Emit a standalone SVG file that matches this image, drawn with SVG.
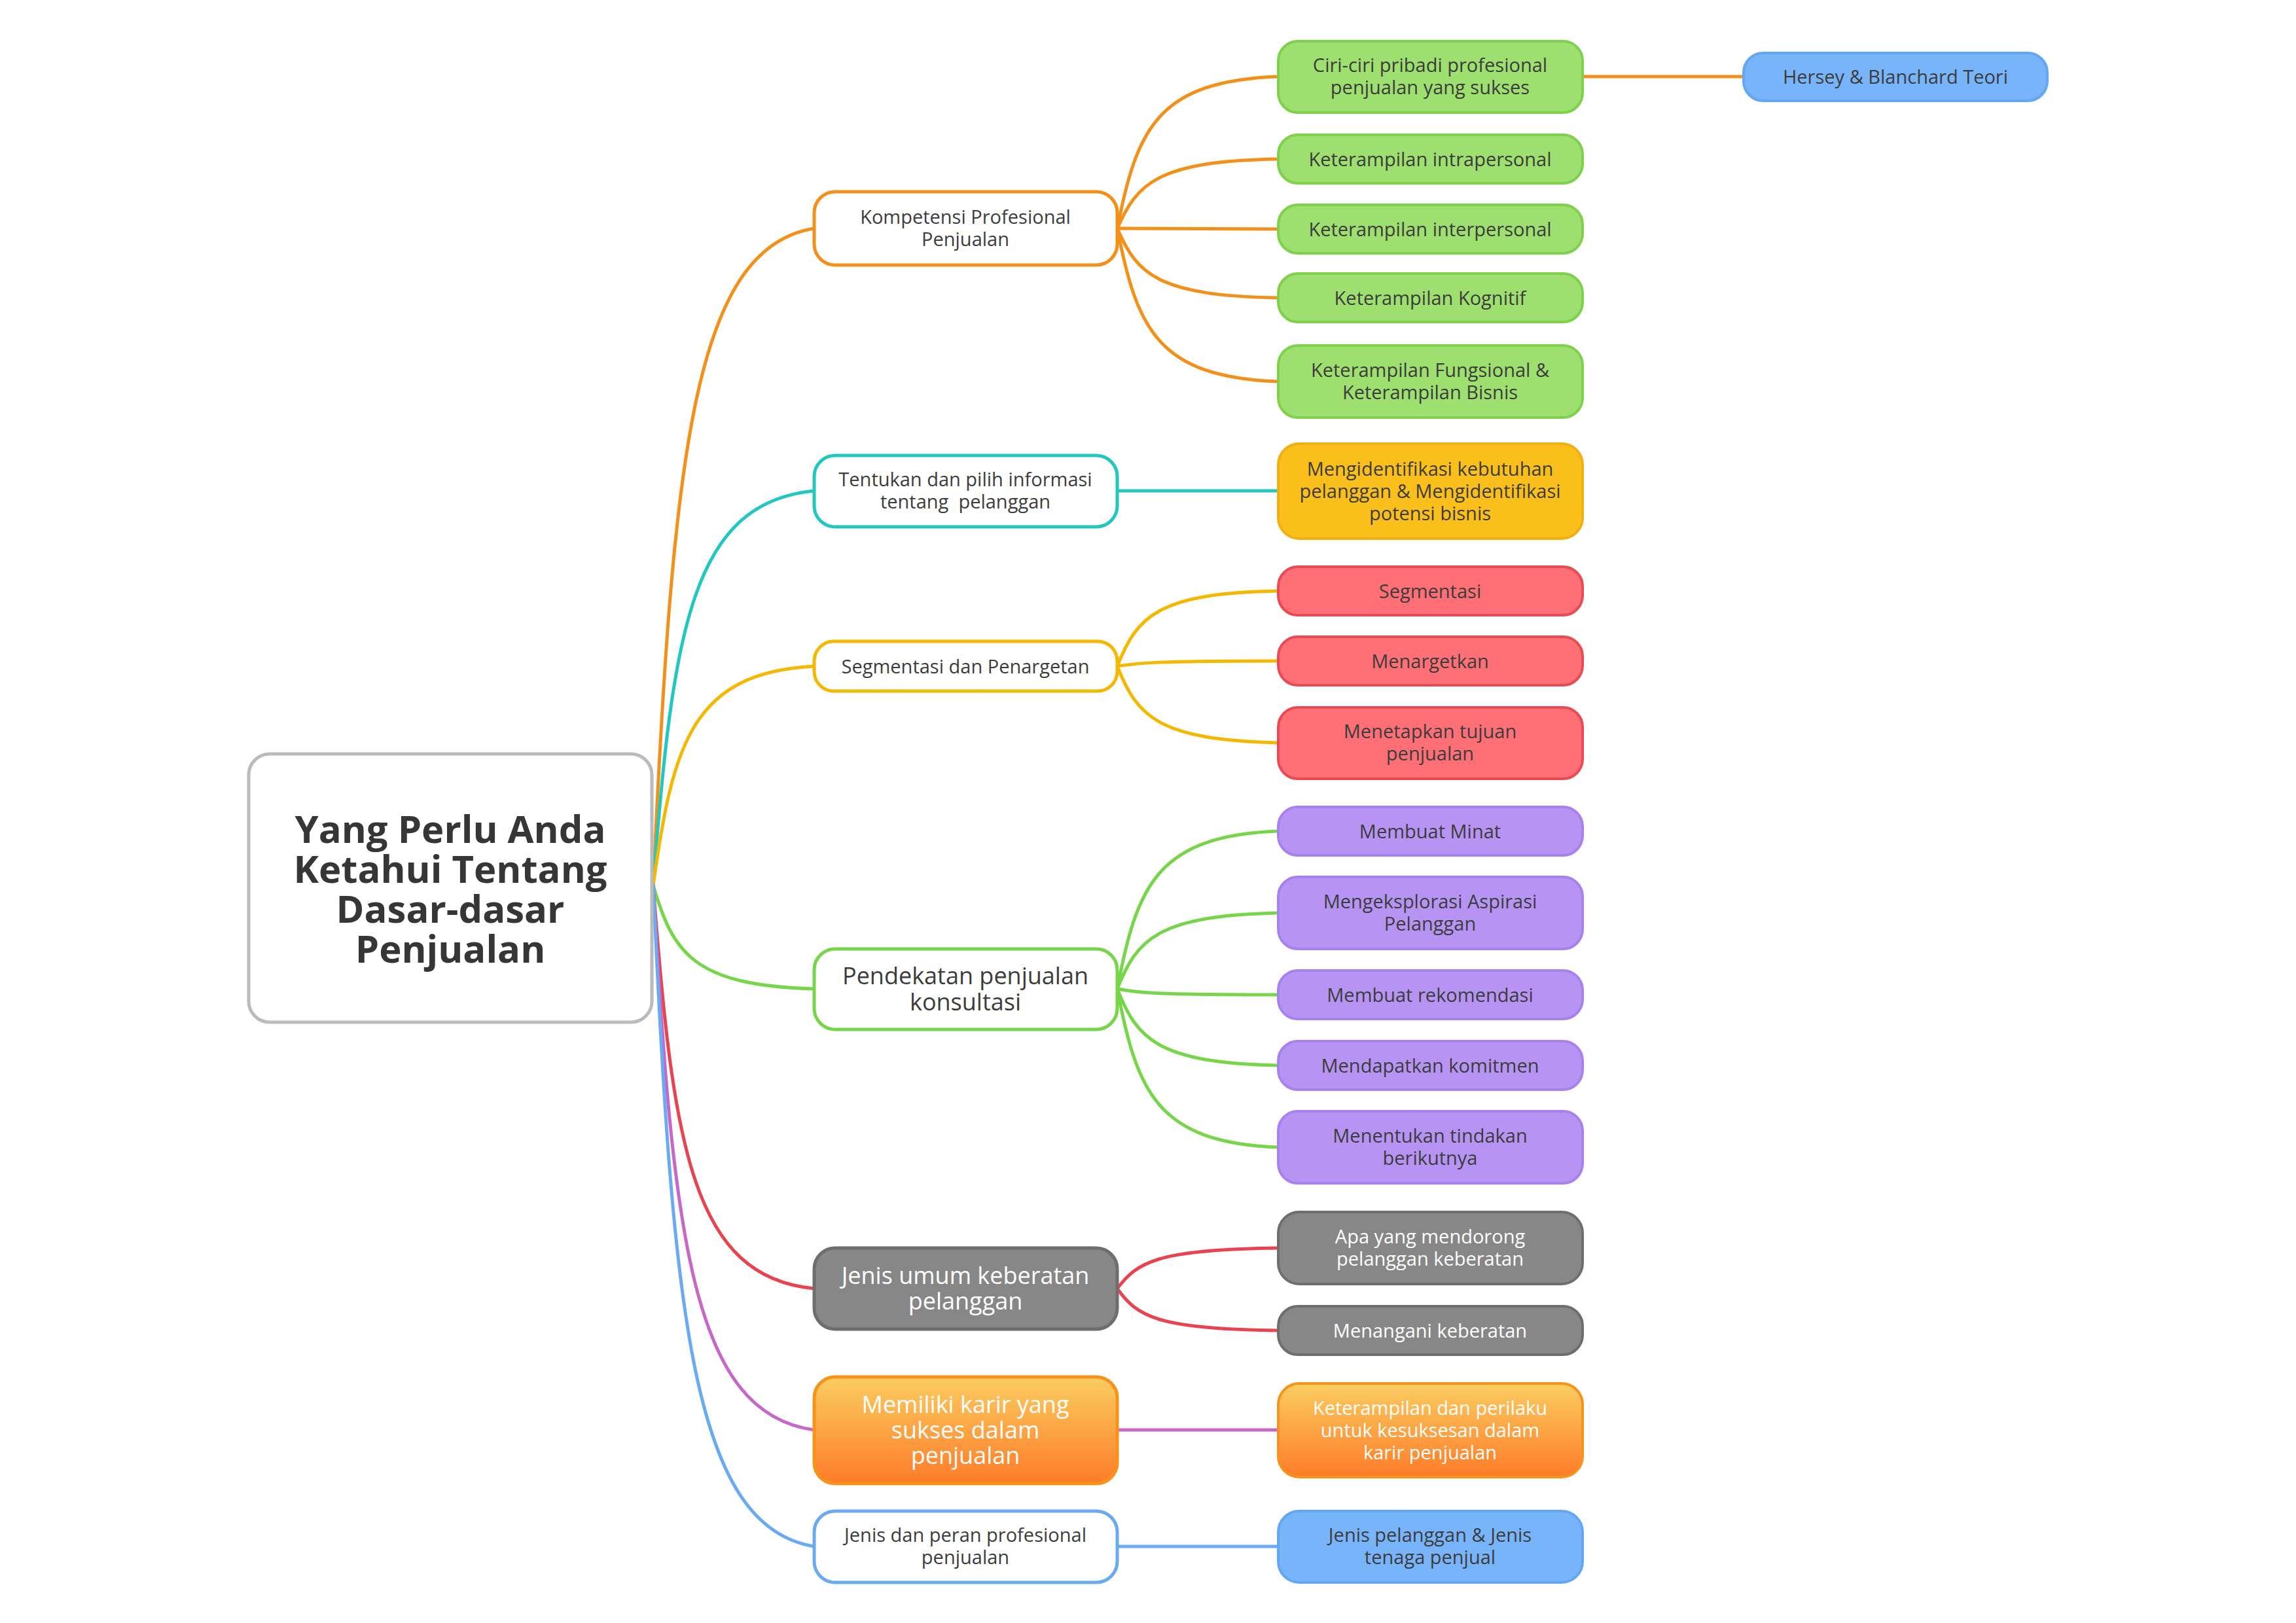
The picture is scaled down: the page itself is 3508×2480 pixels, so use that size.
<svg xmlns="http://www.w3.org/2000/svg" width="3508" height="2480" viewBox="0 0 3508 2480">
<defs>
<linearGradient id="gOrange" x1="0" y1="0" x2="0" y2="1">
<stop offset="0" stop-color="#FBCD60"/>
<stop offset="1" stop-color="#FE7B28"/>
</linearGradient>
<style>
text{font-family:"Open Sans","Noto Sans","Liberation Sans",sans-serif;text-anchor:middle;dominant-baseline:central;fill:#3c3c3c}
.root rect{fill:#fff;stroke:#BBBBBB;stroke-width:5}
.root text{font-size:58px;font-weight:700;fill:#363636}
.l1 rect{fill:#fff;stroke-width:5}
.s text{font-size:29px}
.b text{font-size:36px}
.l2 rect{stroke-width:4}
.w text{fill:#ffffff}
.c path{fill:none;stroke-width:5;stroke-linecap:round}
.or rect{stroke:#F39019}
.te rect{stroke:#22C7C0}
.ye rect{stroke:#F5B800}
.gr rect{stroke:#76D549}
.gy rect{fill:#878787;stroke:#6E6E6E}
.og rect{fill:url(#gOrange);stroke:#F7921B}
.bl rect{stroke:#6AAAF2}
.fgreen rect{fill:#9DE06F;stroke:#7ED14B}
.fblue rect{fill:#78B4FA;stroke:#62A6F5}
.fyel rect{fill:#FBBF1C;stroke:#F0B012}
.fred rect{fill:#FF6F76;stroke:#EA4A53}
.fpur rect{fill:#B794F4;stroke:#A781EE}
.cOr{stroke:#F39019}.cTe{stroke:#22C7C0}.cYe{stroke:#F5B800}.cGr{stroke:#76D549}.cRe{stroke:#E8434F}.cMa{stroke:#C768C8}.cBl{stroke:#6AAAF2}
</style>
</defs>
<rect width="3508" height="2480" fill="#ffffff"/>

<g id="connectors" class="c">
<path class="cOr" d="M998,1353 C1028,700 1058,379 1244,349"/>
<path class="cTe" d="M998,1353 C1028,959 1058,768 1244,750"/>
<path class="cYe" d="M998,1353 C1028,1135 1058,1028 1244,1018"/>
<path class="cGr" d="M998,1353 C1028,1455 1058,1506 1244,1511"/>
<path class="cRe" d="M998,1353 C1028,1753 1058,1951 1244,1969"/>
<path class="cMa" d="M998,1353 C1028,1894 1058,2160 1244,2185"/>
<path class="cBl" d="M998,1353 C1028,2012 1058,2333 1244,2363"/>

<path class="cOr" d="M1707,349 C1737,198 1767,124 1953,117"/>
<path class="cOr" d="M1707,349 C1737,281 1767,246 1953,243"/>
<path class="cOr" d="M1707,349 L1953,350"/>
<path class="cOr" d="M1707,349 C1737,418 1767,452 1953,455"/>
<path class="cOr" d="M1707,349 C1737,501 1767,576 1953,583"/>
<path class="cOr" d="M2418,117 L2664,117"/>

<path class="cTe" d="M1707,750 L1953,750"/>

<path class="cYe" d="M1707,1018 C1737,943 1767,906 1953,903"/>
<path class="cYe" d="M1707,1018 C1737,1013 1767,1010 1953,1010"/>
<path class="cYe" d="M1707,1018 C1737,1093 1767,1131 1953,1135"/>

<path class="cGr" d="M1707,1511 C1737,1354 1767,1277 1953,1270"/>
<path class="cGr" d="M1707,1511 C1737,1436 1767,1399 1953,1395"/>
<path class="cGr" d="M1707,1511 C1737,1517 1767,1520 1953,1520"/>
<path class="cGr" d="M1707,1511 C1737,1587 1767,1624 1953,1628"/>
<path class="cGr" d="M1707,1511 C1737,1668 1767,1746 1953,1753"/>

<path class="cRe" d="M1707,1969 C1737,1929 1767,1909 1953,1907"/>
<path class="cRe" d="M1707,1969 C1737,2011 1767,2031 1953,2033"/>

<path class="cMa" d="M1707,2185 L1953,2185"/>
<path class="cBl" d="M1707,2363 L1953,2363"/>
</g>

<g id="root" class="root">
<rect x="380" y="1152" width="616" height="410" rx="32"/>
<text x="688" y="1265">Yang Perlu Anda</text>
<text x="688" y="1326">Ketahui Tentang</text>
<text x="688" y="1387">Dasar-dasar</text>
<text x="688" y="1448">Penjualan</text>
</g>

<g id="n-kompetensi" class="l1 s or">
<rect x="1244" y="293" width="463" height="112" rx="32"/>
<text x="1475" y="330">Kompetensi Profesional</text>
<text x="1475" y="364">Penjualan</text>
</g>
<g id="n-tentukan" class="l1 s te">
<rect x="1244" y="696" width="463" height="109" rx="32"/>
<text x="1475" y="731">Tentukan dan pilih informasi</text>
<text x="1475" y="765" xml:space="preserve" style="white-space:pre">tentang  pelanggan</text>
</g>
<g id="n-segpen" class="l1 s ye">
<rect x="1244" y="980" width="463" height="76" rx="30"/>
<text x="1475" y="1017">Segmentasi dan Penargetan</text>
</g>
<g id="n-pendekatan" class="l1 b gr">
<rect x="1244" y="1450" width="463" height="123" rx="32"/>
<text x="1475" y="1490">Pendekatan penjualan</text>
<text x="1475" y="1530">konsultasi</text>
</g>
<g id="n-jenisumum" class="l1 b w gy">
<rect x="1244" y="1907" width="463" height="124" rx="32"/>
<text x="1475" y="1948">Jenis umum keberatan</text>
<text x="1475" y="1987">pelanggan</text>
</g>
<g id="n-memiliki" class="l1 b w og">
<rect x="1244" y="2104" width="463" height="163" rx="32"/>
<text x="1475" y="2145">Memiliki karir yang</text>
<text x="1475" y="2184">sukses dalam</text>
<text x="1475" y="2223">penjualan</text>
</g>
<g id="n-jenisperan" class="l1 s bl">
<rect x="1244" y="2309" width="463" height="109" rx="32"/>
<text x="1475" y="2344">Jenis dan peran profesional</text>
<text x="1475" y="2378">penjualan</text>
</g>

<g id="n-ciri" class="l2 s fgreen">
<rect x="1953" y="63" width="465" height="109" rx="30"/>
<text x="2185" y="98">Ciri-ciri pribadi profesional</text>
<text x="2185" y="132">penjualan yang sukses</text>
</g>
<g id="n-hersey" class="l2 s fblue">
<rect x="2664" y="81" width="464" height="73" rx="30"/>
<text x="2896" y="116">Hersey &amp; Blanchard Teori</text>
</g>
<g id="n-intra" class="l2 s fgreen">
<rect x="1953" y="206" width="465" height="74" rx="30"/>
<text x="2185" y="242">Keterampilan intrapersonal</text>
</g>
<g id="n-inter" class="l2 s fgreen">
<rect x="1953" y="313" width="465" height="74" rx="30"/>
<text x="2185" y="349">Keterampilan interpersonal</text>
</g>
<g id="n-kognitif" class="l2 s fgreen">
<rect x="1953" y="418" width="465" height="74" rx="30"/>
<text x="2185" y="454">Keterampilan Kognitif</text>
</g>
<g id="n-fungsional" class="l2 s fgreen">
<rect x="1953" y="528" width="465" height="110" rx="30"/>
<text x="2185" y="564">Keterampilan Fungsional &amp;</text>
<text x="2185" y="598">Keterampilan Bisnis</text>
</g>

<g id="n-mengidentifikasi" class="l2 s fyel">
<rect x="1953" y="678" width="465" height="145" rx="32"/>
<text x="2185" y="715">Mengidentifikasi kebutuhan</text>
<text x="2185" y="749">pelanggan &amp; Mengidentifikasi</text>
<text x="2185" y="783">potensi bisnis</text>
</g>

<g id="n-segmentasi" class="l2 s fred">
<rect x="1953" y="866" width="465" height="74" rx="30"/>
<text x="2185" y="902">Segmentasi</text>
</g>
<g id="n-menargetkan" class="l2 s fred">
<rect x="1953" y="973" width="465" height="74" rx="30"/>
<text x="2185" y="1009">Menargetkan</text>
</g>
<g id="n-menetapkan" class="l2 s fred">
<rect x="1953" y="1081" width="465" height="109" rx="30"/>
<text x="2185" y="1116">Menetapkan tujuan</text>
<text x="2185" y="1150">penjualan</text>
</g>

<g id="n-minat" class="l2 s fpur">
<rect x="1953" y="1233" width="465" height="74" rx="30"/>
<text x="2185" y="1269">Membuat Minat</text>
</g>
<g id="n-aspirasi" class="l2 s fpur">
<rect x="1953" y="1340" width="465" height="110" rx="30"/>
<text x="2185" y="1376">Mengeksplorasi Aspirasi</text>
<text x="2185" y="1410">Pelanggan</text>
</g>
<g id="n-rekomendasi" class="l2 s fpur">
<rect x="1953" y="1483" width="465" height="74" rx="30"/>
<text x="2185" y="1519">Membuat rekomendasi</text>
</g>
<g id="n-komitmen" class="l2 s fpur">
<rect x="1953" y="1591" width="465" height="74" rx="30"/>
<text x="2185" y="1627">Mendapatkan komitmen</text>
</g>
<g id="n-tindakan" class="l2 s fpur">
<rect x="1953" y="1698" width="465" height="110" rx="30"/>
<text x="2185" y="1734">Menentukan tindakan</text>
<text x="2185" y="1768">berikutnya</text>
</g>

<g id="n-apa" class="l2 s w gy">
<rect x="1953" y="1852" width="465" height="110" rx="32"/>
<text x="2185" y="1888">Apa yang mendorong</text>
<text x="2185" y="1922">pelanggan keberatan</text>
</g>
<g id="n-menangani" class="l2 s w gy">
<rect x="1953" y="1996" width="465" height="74" rx="30"/>
<text x="2185" y="2032">Menangani keberatan</text>
</g>

<g id="n-perilaku" class="l2 s w og">
<rect x="1953" y="2114" width="465" height="143" rx="32"/>
<text x="2185" y="2150">Keterampilan dan perilaku</text>
<text x="2185" y="2184">untuk kesuksesan dalam</text>
<text x="2185" y="2218">karir penjualan</text>
</g>

<g id="n-jenispelanggan" class="l2 s fblue">
<rect x="1953" y="2309" width="465" height="109" rx="32"/>
<text x="2185" y="2344">Jenis pelanggan &amp; Jenis</text>
<text x="2185" y="2378">tenaga penjual</text>
</g>
</svg>
